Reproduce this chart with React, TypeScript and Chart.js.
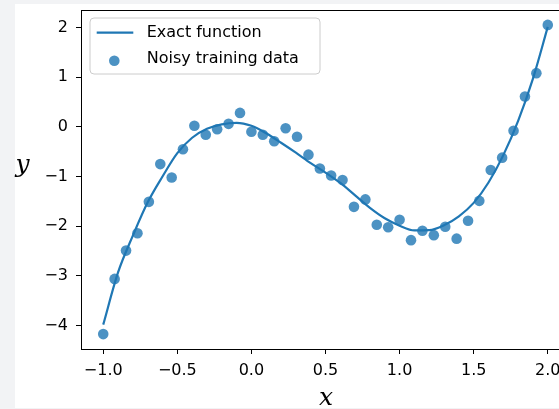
import React, { useEffect, useRef } from 'react';
import { Chart, registerables } from 'chart.js';

Chart.register(...registerables);

// ---- data ----
const seriesLabels = ['Exact function', 'Noisy training data'];

const curveX = [
  -1.0, -0.9, -0.8, -0.7, -0.6, -0.5, -0.4, -0.3, -0.2, -0.1, 0.0,
  0.1, 0.2, 0.3, 0.4, 0.5, 0.6, 0.7, 0.8, 0.9, 1.0,
  1.1, 1.2, 1.3, 1.4, 1.5, 1.6, 1.7, 1.8, 1.9, 2.0,
];
const curveY = [
  -3.98, -2.93, -2.19, -1.52, -1.0, -0.53, -0.22, -0.04, 0.05, 0.08, 0.02,
  -0.13, -0.32, -0.52, -0.73, -0.92, -1.13, -1.38, -1.63, -1.84, -1.99,
  -2.085, -2.08, -1.98, -1.8, -1.53, -1.12, -0.57, 0.12, 0.97, 2.01,
];

const noisyX = [
  -1.0, -0.923, -0.846, -0.769, -0.692, -0.615, -0.538, -0.462, -0.385, -0.308,
  -0.231, -0.154, -0.077, 0.0, 0.077, 0.154, 0.231, 0.308, 0.385, 0.462,
  0.538, 0.615, 0.692, 0.769, 0.846, 0.923, 1.0, 1.077, 1.154, 1.231,
  1.308, 1.385, 1.462, 1.538, 1.615, 1.692, 1.769, 1.846, 1.923, 2.0,
];
const noisyY = [
  -4.17, -3.06, -2.49, -2.14, -1.51, -0.75, -1.02, -0.45, 0.02, -0.16,
  -0.05, 0.06, 0.28, -0.1, -0.16, -0.29, -0.03, -0.2, -0.56, -0.84,
  -0.98, -1.07, -1.61, -1.46, -1.97, -2.02, -1.87, -2.28, -2.09, -2.18,
  -2.01, -2.25, -1.89, -1.49, -0.87, -0.62, -0.08, 0.61, 1.08, 2.05,
];

const xTicks = [-1.0, -0.5, 0.0, 0.5, 1.0, 1.5, 2.0];
const yTicks = [-4, -3, -2, -1, 0, 1, 2];
const xLabel = 'x';
const yLabel = 'y';

const C0 = '#1f77b4';
const C0A = 'rgba(31,119,180,0.8)';

const fmt = (v: number, d: number) =>
  (v < -1e-9 ? '\u2212' : '') + Math.abs(v).toFixed(d);

const overlayPlugin = {
  id: 'overlay',
  afterDraw(chart: any) {
    const { ctx, chartArea: a } = chart;
    ctx.save();
    // top / right spines
    ctx.strokeStyle = '#000';
    ctx.lineWidth = 1;
    ctx.beginPath();
    ctx.moveTo(a.left, a.top + 0.5);
    ctx.lineTo(a.right, a.top + 0.5);
    ctx.lineTo(a.right, a.bottom);
    ctx.stroke();

    // legend
    const lx = a.left + 9;
    const ly = a.top + 8;
    const w = 230;
    const h = 56;
    const r = 4;
    ctx.beginPath();
    ctx.moveTo(lx + r, ly);
    ctx.lineTo(lx + w - r, ly);
    ctx.arcTo(lx + w, ly, lx + w, ly + r, r);
    ctx.lineTo(lx + w, ly + h - r);
    ctx.arcTo(lx + w, ly + h, lx + w - r, ly + h, r);
    ctx.lineTo(lx + r, ly + h);
    ctx.arcTo(lx, ly + h, lx, ly + h - r, r);
    ctx.lineTo(lx, ly + r);
    ctx.arcTo(lx, ly, lx + r, ly, r);
    ctx.closePath();
    ctx.fillStyle = 'rgba(255,255,255,0.8)';
    ctx.fill();
    ctx.strokeStyle = '#cccccc';
    ctx.lineWidth = 1;
    ctx.stroke();

    ctx.strokeStyle = C0;
    ctx.lineWidth = 2.2;
    ctx.beginPath();
    ctx.moveTo(lx + 6.7, ly + 14.7);
    ctx.lineTo(lx + 43.3, ly + 14.7);
    ctx.stroke();

    ctx.fillStyle = C0A;
    ctx.beginPath();
    ctx.arc(lx + 24.3, ly + 42.7, 5.3, 0, Math.PI * 2);
    ctx.fill();

    ctx.fillStyle = '#000';
    ctx.font = '16px "DejaVu Sans"';
    ctx.textAlign = 'left';
    ctx.textBaseline = 'middle';
    ctx.fillText(chart.data.datasets[1].label, lx + 56.7, ly + 15.3);
    ctx.fillText(chart.data.datasets[0].label, lx + 56.7, ly + 41.2);

    // axis labels
    ctx.font = 'italic 25px "DejaVu Serif"';
    ctx.textAlign = 'center';
    ctx.textBaseline = 'alphabetic';
    ctx.fillText(yLabel, 22.5, 172);
    ctx.fillText(xLabel, 326, 405);
    ctx.restore();
  },
};

export default function App() {
  const ref = useRef<HTMLCanvasElement | null>(null);

  useEffect(() => {
    if (!ref.current) return;
    const chart = new Chart(ref.current, {
      type: 'scatter',
      data: {
        datasets: [
          {
            label: seriesLabels[1],
            data: noisyX.map((x, i) => ({ x, y: noisyY[i] })),
            backgroundColor: C0A,
            borderWidth: 0,
            pointRadius: 5.3,
            pointHoverRadius: 5.3,
            showLine: false,
            order: 0,
          },
          {
            type: 'line',
            label: seriesLabels[0],
            data: curveX.map((x, i) => ({ x, y: curveY[i] })),
            borderColor: C0,
            backgroundColor: C0,
            borderWidth: 2.2,
            pointRadius: 0,
            showLine: true,
            fill: false,
            cubicInterpolationMode: 'monotone',
            order: 1,
          } as any,
        ],
      },
      options: {
        responsive: false,
        animation: false,
        devicePixelRatio: 1,
        events: [],
        layout: { padding: { left: 0, top: 10, right: 30, bottom: 0 } },
        plugins: {
          legend: { display: false },
          tooltip: { enabled: false },
        },
        scales: {
          x: {
            type: 'linear',
            min: -1.15,
            max: 2.15,
            afterBuildTicks: (s: any) => {
              s.ticks = xTicks.map((v) => ({ value: v }));
            },
            afterFit: (s: any) => {
              s.height = 60;
              s.paddingLeft = 0;
              s.paddingRight = 0;
              s.paddingTop = 0;
              s.paddingBottom = 0;
            },
            ticks: {
              callback: (v: any) => fmt(Number(v), 1),
              color: '#000',
              font: { family: 'DejaVu Sans', size: 16 },
              padding: 7,
              maxRotation: 0,
              autoSkip: false,
            },
            grid: {
              drawOnChartArea: false,
              drawTicks: true,
              tickLength: 5,
              tickColor: '#000',
              tickWidth: 1,
            },
            border: { display: true, color: '#000', width: 1 },
          },
          y: {
            type: 'linear',
            min: -4.47,
            max: 2.35,
            afterBuildTicks: (s: any) => {
              s.ticks = yTicks.map((v) => ({ value: v }));
            },
            afterFit: (s: any) => {
              s.width = 81;
              s.paddingLeft = 0;
              s.paddingRight = 0;
              s.paddingTop = 0;
              s.paddingBottom = 0;
            },
            ticks: {
              callback: (v: any) => fmt(Number(v), 0),
              color: '#000',
              font: { family: 'DejaVu Sans', size: 16 },
              padding: 8,
              autoSkip: false,
            },
            grid: {
              drawOnChartArea: false,
              drawTicks: true,
              tickLength: 5,
              tickColor: '#000',
              tickWidth: 1,
            },
            border: { display: true, color: '#000', width: 1 },
          },
        },
      } as any,
      plugins: [overlayPlugin],
    });
    return () => chart.destroy();
  }, []);

  return (
    <div
      style={{
        position: 'fixed',
        left: 0,
        top: 0,
        width: 559,
        height: 409,
        overflow: 'hidden',
        background: '#f2f3f5',
      }}
    >
      <div
        style={{
          position: 'absolute',
          left: 15,
          top: 4,
          width: 544,
          height: 404,
          background: '#ffffff',
        }}
      />
      <canvas
        ref={ref}
        width={600}
        height={409}
        style={{ position: 'absolute', left: 0, top: 0, width: 600, height: 409 }}
      />
    </div>
  );
}
